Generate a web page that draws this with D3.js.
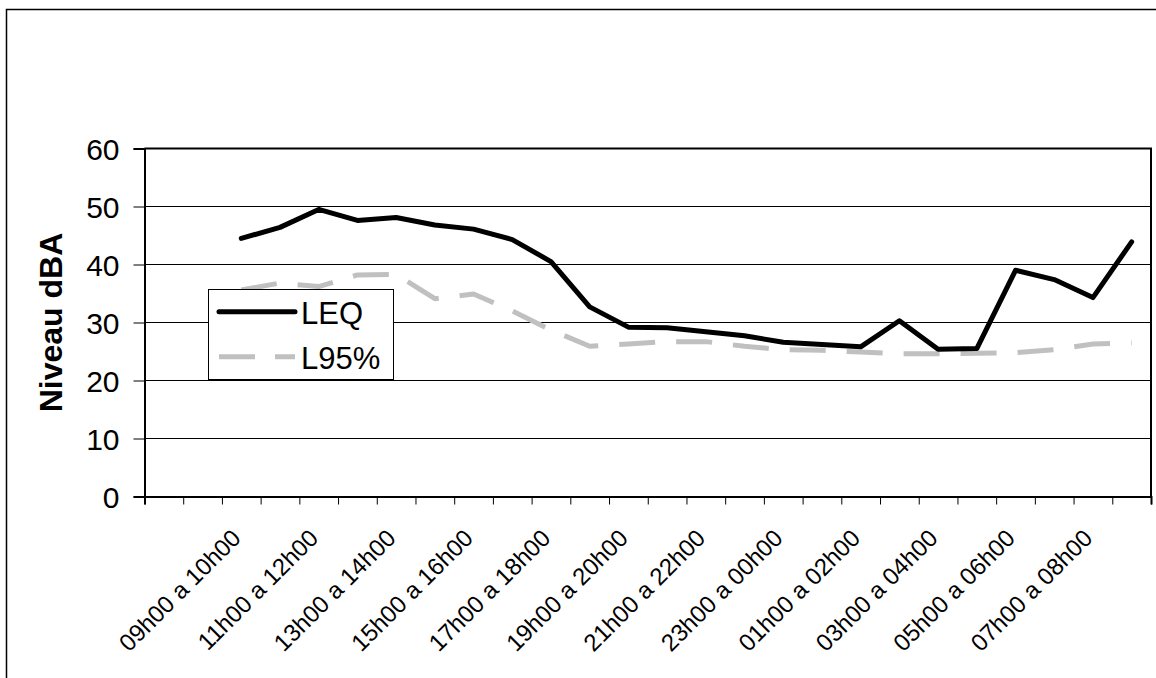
<!DOCTYPE html>
<html>
<head>
<meta charset="utf-8">
<script src="https://cdn.jsdelivr.net/npm/d3@7"></script>
<style>
  html, body { margin: 0; padding: 0; background: #fff; }
  svg { display: block; font-family: "Liberation Sans", Arial, sans-serif; }
</style>
</head>
<body>
<svg id="chart" width="1156" height="678"></svg>
<script>
// ---- data ----
const categories = ["", "",
  "09h00 a 10h00", "10h00 a 11h00", "11h00 a 12h00", "12h00 a 13h00",
  "13h00 a 14h00", "14h00 a 15h00", "15h00 a 16h00", "16h00 a 17h00",
  "17h00 a 18h00", "18h00 a 19h00", "19h00 a 20h00", "20h00 a 21h00",
  "21h00 a 22h00", "22h00 a 23h00", "23h00 a 00h00", "00h00 a 01h00",
  "01h00 a 02h00", "02h00 a 03h00", "03h00 a 04h00", "04h00 a 05h00",
  "05h00 a 06h00", "06h00 a 07h00", "07h00 a 08h00", "08h00 a 09h00"];
// values start at category index 2 ("09h00 a 10h00")
const leq  = [44.5, 46.4, 49.5, 47.6, 48.1, 46.8, 46.1, 44.3, 40.5, 32.7, 29.2, 29.1,
              28.4, 27.7, 26.6, 26.2, 25.8, 30.3, 25.4, 25.5, 39.0, 37.4, 34.3, 43.9];
const l95  = [35.6, 36.8, 36.2, 38.2, 38.3, 34.1, 34.9, 32.0, 28.7, 25.9, 26.3, 26.7,
              26.7, 25.9, 25.3, 25.2, 24.9, 24.6, 24.6, 24.7, 24.8, 25.3, 26.3, 26.5];
const firstDataIndex = 2;
const yTicks = [0, 10, 20, 30, 40, 50, 60];
const seriesNames = ["LEQ", "L95%"];
const yTitle = "Niveau dBA";

// ---- layout ----
const svg = d3.select("#chart");
const plot = { left: 144.5, right: 1151, top: 148.5, bottom: 496.5 };
const n = categories.length;

const x = d3.scaleLinear().domain([0, n]).range([plot.left, plot.right]);
const y = d3.scaleLinear().domain([0, 60]).range([plot.bottom, plot.top]);

// outer chart border
svg.append("rect")
  .attr("x", 6.5).attr("y", 9.5).attr("width", 1170).attr("height", 700)
  .attr("fill", "#fff").attr("stroke", "#000").attr("stroke-width", 1.5);

// gridlines
svg.append("g").selectAll("line")
  .data(yTicks.filter(v => v > 0 && v < 60))
  .join("line")
  .attr("x1", plot.left).attr("x2", plot.right)
  .attr("y1", d => y(d)).attr("y2", d => y(d))
  .attr("stroke", "#000").attr("stroke-width", 1);

// plot border top/right
svg.append("path")
  .attr("d", `M${plot.left},${plot.top}H${plot.right}V${plot.bottom}`)
  .attr("fill", "none").attr("stroke", "#000").attr("stroke-width", 2);

// y axis
const yAxis = svg.append("g")
  .attr("transform", `translate(${plot.left},0)`)
  .call(d3.axisLeft(y).tickValues(yTicks).tickSize(11).tickPadding(14).tickFormat(d3.format("d")));
yAxis.select(".domain").attr("stroke", "#000").attr("stroke-width", 2);
yAxis.selectAll(".tick line").attr("stroke", "#000").attr("stroke-width", 1);
yAxis.selectAll(".tick text")
  .attr("font-size", 30).attr("fill", "#000")
  .attr("font-family", "Liberation Sans, Arial, sans-serif")
  .attr("dy", "0.358em");

// x axis (ticks at category boundaries)
const xAxis = svg.append("g")
  .attr("transform", `translate(0,${plot.bottom})`)
  .call(d3.axisBottom(x).tickValues(d3.range(n + 1)).tickSize(8).tickFormat(""));
xAxis.select(".domain").attr("stroke", "#000").attr("stroke-width", 2);
xAxis.selectAll(".tick line").attr("stroke", "#000").attr("stroke-width", 1);

// x labels (every second category), rotated -45
svg.append("g").selectAll("text")
  .data(categories.map((c, i) => ({ c, i })).filter(d => d.i % 2 === 0 && d.c !== ""))
  .join("text")
  .attr("transform", d => `translate(${x(d.i + 0.5) + 1},${539.5}) rotate(-45)`)
  .attr("text-anchor", "end")
  .attr("font-size", 24)
  .attr("fill", "#000")
  .text(d => d.c);

// y title
svg.append("text")
  .attr("transform", `translate(61.7,${(plot.top + plot.bottom) / 2}) rotate(-90)`)
  .attr("text-anchor", "middle")
  .attr("font-size", 32)
  .attr("font-weight", "bold")
  .attr("fill", "#000")
  .text(yTitle);

// lines
const line = d3.line()
  .x((d, i) => x(i + firstDataIndex + 0.5))
  .y(d => y(d));

svg.append("path")
  .datum(l95)
  .attr("d", line)
  .attr("fill", "none")
  .attr("stroke", "#c0c0c0")
  .attr("stroke-width", 5)
  .attr("stroke-dasharray", "36,21")
  .attr("stroke-linejoin", "round");

svg.append("path")
  .datum(leq)
  .attr("d", line)
  .attr("fill", "none")
  .attr("stroke", "#000")
  .attr("stroke-width", 5)
  .attr("stroke-linejoin", "round")
  .attr("stroke-linecap", "round");

// legend
const lg = svg.append("g");
lg.append("rect")
  .attr("x", 208.5).attr("y", 289.5).attr("width", 185).attr("height", 90)
  .attr("fill", "#fff").attr("stroke", "#000").attr("stroke-width", 1);
lg.append("line")
  .attr("x1", 219).attr("x2", 295).attr("y1", 311.7).attr("y2", 311.7)
  .attr("stroke", "#000").attr("stroke-width", 5).attr("stroke-linecap", "round");
lg.append("line")
  .attr("x1", 219).attr("x2", 295).attr("y1", 356.7).attr("y2", 356.7)
  .attr("stroke", "#c0c0c0").attr("stroke-width", 5).attr("stroke-dasharray", "36,20");
lg.selectAll("text.lab")
  .data(seriesNames)
  .join("text")
  .attr("class", "lab")
  .attr("x", 301)
  .attr("y", (d, i) => 324.3 + i * 45)
  .attr("font-size", 31)
  .attr("fill", "#000")
  .text(d => d);
</script>
</body>
</html>
